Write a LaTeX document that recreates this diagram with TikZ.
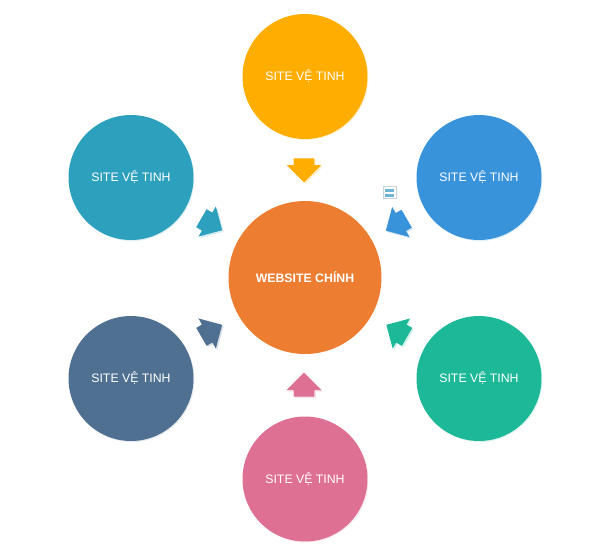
\documentclass[tikz,border=0pt]{standalone}
\usepackage{fontspec}
\setmainfont{Liberation Sans}
\usepackage{xcolor}
\usetikzlibrary{shapes.arrows,shadows}
\definecolor{hub}{RGB}{237,125,49}
\definecolor{sat_top}{RGB}{255,174,0}
\definecolor{sat_teal}{RGB}{44,160,189}
\definecolor{sat_blue}{RGB}{56,147,219}
\definecolor{sat_slate}{RGB}{80,112,146}
\definecolor{sat_green}{RGB}{28,184,152}
\definecolor{sat_pink}{RGB}{222,112,148}
\definecolor{icon_bar}{RGB}{110,180,215}
\definecolor{icon_edge}{RGB}{200,212,220}
\tikzset{
    sat/.style = {circle, minimum size=2.5cm, inner sep=0pt, text=white,
        font=\fontsize{7}{8}\selectfont, fill=#1,
        drop shadow={shadow xshift=0.02cm, shadow yshift=-0.02cm, opacity=0.15, fill=#1}},
    flow/.style = {single arrow, anchor=tail, minimum height=0.48cm,
        single arrow head extend=0.14cm, single arrow head indent=0cm,
        inner xsep=0pt, inner ysep=0.2cm, fill=#1,
        drop shadow={shadow xshift=0.03cm, shadow yshift=-0.03cm, opacity=0.2, fill=#1}}
}

\begin{document}
\begin{tikzpicture}[x=0.02cm, y=-0.02cm]
    \useasboundingbox (0,0) rectangle (600,556);
    % satellites
    \node[sat=sat_top] (top) at (305,76.5) {SITE VỆ TINH};
    \node[sat=sat_teal] (topleft) at (131,177.5) {SITE VỆ TINH};
    \node[sat=sat_blue] (topright) at (479,177.5) {SITE VỆ TINH};
    \node[sat=sat_slate] (botleft) at (131,378.5) {SITE VỆ TINH};
    \node[sat=sat_green] (botright) at (479,378.5) {SITE VỆ TINH};
    \node[sat=sat_pink] (bot) at (305,479) {SITE VỆ TINH};
    % main site
    \node[circle, minimum size=3.06cm, inner sep=0pt, text=white, fill=hub,
        font=\fontsize{7}{8}\selectfont\bfseries] (main) at (305,277.5) {WEBSITE CHÍNH};
    % arrows towards the main site
    \node[flow=sat_top, rotate=-90] (a_top) at (304,158) {};
    \node[flow=sat_teal, rotate=-30] (a_topleft) at (201.1,218) {};
    \node[flow=sat_blue, rotate=210] (a_topright) at (406.9,218.5) {};
    \node[flow=sat_slate, rotate=30] (a_botleft) at (201.1,337) {};
    \node[flow=sat_green, rotate=150] (a_botright) at (407.4,337) {};
    \node[flow=sat_pink, rotate=90] (a_bot) at (304,397) {};
    % small icon
    \fill[white, draw=icon_edge, line width=0.3pt] (383.5,186.5) rectangle (396,198.5);
    \fill[icon_bar] (385.5,189) rectangle (394,192);
    \fill[icon_bar] (385.5,193.5) rectangle (394,196.5);
\end{tikzpicture}
\end{document}
